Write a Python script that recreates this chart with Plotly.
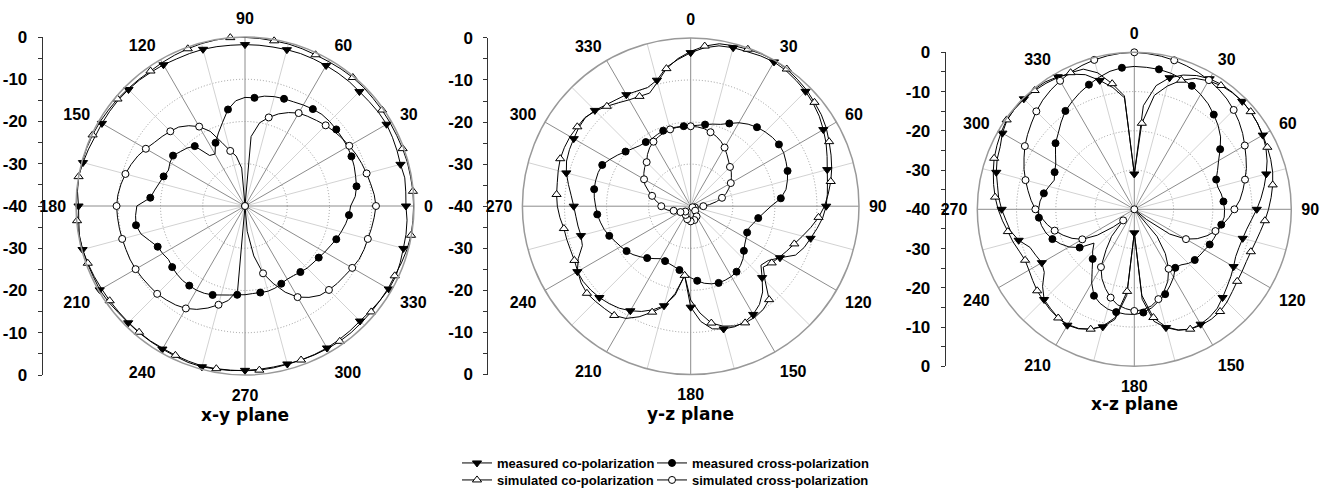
import plotly.graph_objects as go

W, H = 1325, 491
ANGLES = list(range(0, 360, 5))

# ---------------- data (dB) on a 5-degree grid, 0..355 ----------------
# x-y plane
xy_meas_co = [-1.9,-1.8,-1.6,-1.9,-1.7,-1.5,-1.3,-1.4,-1.6,-1.7,-1.6,-1.6,-1.6,-1.6,-1.6,-1.7,-1.8,-1.8,
              -1.8,-1.8,-1.7,-1.6,-1.6,-1.6,-1.4,-1.3,-1.1,-1.0,-0.9,-0.9,-0.9,-0.9,-0.6,-0.3,0.0,-0.2,
              -0.6,-0.5,-0.2,-0.2,-0.3,-0.4,-0.3,-0.5,-0.8,-0.9,-0.9,-0.9,-0.9,-0.8,-0.6,-0.6,-0.8,-0.9,
              -1.1,-1.2,-1.3,-1.3,-1.2,-1.2,-1.2,-1.3,-1.4,-1.5,-1.3,-1.0,-0.7,-0.6,-0.9,-1.2,-1.3,-1.5]
xy_sim_co = [-0.1,-0.1,-0.2,-0.2,-0.3,-0.4,-0.4,-0.4,-0.4,-0.3,-0.3,-0.4,-0.5,-0.5,-0.4,-0.3,-0.3,-0.2,
             -0.1,0.0,-0.1,-0.2,-0.4,-0.6,-0.8,-1.0,-0.9,-0.8,-0.6,-0.5,-0.3,-0.2,-0.1,-0.1,0.0,-0.1,
             -0.1,-0.1,-0.1,-0.2,-0.4,-0.6,-0.8,-0.9,-1.0,-1.0,-1.0,-1.0,-1.1,-1.0,-0.9,-0.8,-0.9,-1.0,
             -1.0,-1.0,-1.1,-1.2,-1.2,-1.1,-1.0,-0.9,-0.9,-1.0,-1.0,-1.0,-0.9,-0.9,-0.6,-0.3,-0.1,-0.1]
xy_meas_cross = [-15.0,-13.8,-13.2,-12.9,-12.5,-12.2,-12.0,-11.9,-11.8,-11.7,-11.7,-12.0,-12.4,-12.8,-13.0,-13.2,-13.6,-14.3,
                 -14.3,-15.0,-16.8,-19.5,-21.6,-23.5,-25.8,-25.4,-21.5,-20.6,-20.0,-19.2,-19.5,-20.0,-19.5,-19.0,-18.3,-17.5,
                 -14.4,-14.0,-13.8,-14.5,-16.0,-17.2,-17.5,-17.9,-17.5,-17.2,-17.0,-17.0,-17.0,-17.2,-17.6,-18.2,-18.6,-18.9,
                 -19.0,-19.2,-19.2,-19.1,-19.3,-19.7,-20.0,-19.9,-19.6,-19.2,-19.0,-18.7,-18.2,-17.7,-17.0,-16.4,-15.8,-15.3]
xy_sim_cross = [-9.0,-9.3,-9.8,-10.2,-10.6,-11.0,-11.5,-12.0,-12.5,-13.0,-13.6,-14.1,-14.6,-15.6,-16.8,-18.3,-20.0,-23.5,
                -40.0,-31.0,-28.0,-26.5,-24.0,-20.5,-18.3,-16.8,-15.6,-15.0,-14.4,-13.8,-12.9,-12.0,-11.3,-10.7,-10.2,-9.8,
                -9.6,-9.7,-9.8,-9.9,-10.0,-10.0,-10.1,-10.3,-10.5,-10.6,-11.0,-11.4,-12.0,-13.0,-14.3,-15.8,-17.3,-20.0,
                -40.0,-34.0,-28.0,-23.5,-20.5,-17.5,-15.1,-13.6,-12.4,-11.9,-11.5,-11.2,-10.7,-10.2,-10.0,-9.9,-9.6,-9.3]

# y-z plane
yz_meas_co = [-3.5,-2.2,-1.3,-1.0,-0.9,-0.6,-0.4,-0.6,-1.0,-1.4,-2.0,-2.7,-3.6,-4.5,-5.5,-6.4,-7.0,-7.4,
              -7.8,-8.5,-9.5,-10.5,-11.3,-12.5,-15.5,-17.5,-18.2,-16.0,-13.4,-11.5,-10.3,-9.6,-9.5,-9.8,-10.4,-12.5,
              -16.0,-23.5,-18.5,-15.5,-13.8,-12.4,-11.3,-10.4,-9.8,-9.3,-9.0,-8.8,-8.9,-10.5,-12.6,-13.0,-12.8,-12.6,
              -12.2,-11.5,-10.5,-9.4,-8.6,-8.2,-7.9,-7.5,-7.3,-7.8,-8.6,-9.1,-9.4,-9.8,-10.0,-9.0,-6.5,-5.0]
yz_sim_co = [-3.2,-1.8,-0.8,-0.5,-0.3,-0.1,0.0,-0.2,-0.6,-1.0,-1.6,-2.1,-2.8,-3.7,-4.5,-5.3,-6.2,-7.2,
             -8.2,-9.5,-11.0,-12.5,-13.8,-14.8,-15.7,-16.5,-17.5,-15.0,-11.0,-10.0,-9.5,-9.4,-9.7,-10.5,-11.8,-14.5,
             -17.7,-23.5,-19.0,-15.3,-13.2,-11.0,-9.2,-8.3,-8.2,-8.0,-7.8,-8.2,-9.0,-9.5,-9.6,-9.5,-9.4,-8.8,
             -8.3,-8.0,-7.8,-7.4,-7.0,-6.9,-6.9,-7.1,-7.2,-8.0,-9.0,-10.0,-10.8,-11.2,-11.4,-9.5,-6.8,-4.8]
yz_meas_cross = [-20.9,-20.7,-20.3,-19.8,-19.3,-18.3,-17.1,-16.2,-15.5,-15.0,-14.6,-14.4,-14.5,-15.0,-15.5,-16.2,-17.0,-18.5,
                 -20.9,-22.5,-23.7,-24.5,-25.2,-25.2,-24.8,-24.3,-23.5,-22.4,-21.6,-21.0,-20.7,-20.6,-20.6,-20.9,-21.4,-22.2,
                 -23.0,-23.9,-24.6,-25.1,-25.4,-25.6,-25.6,-24.8,-23.9,-23.0,-22.1,-21.4,-20.8,-20.2,-19.4,-18.7,-18.2,-17.7,
                 -17.4,-17.0,-16.7,-16.6,-16.6,-16.8,-17.8,-18.8,-19.8,-20.6,-21.2,-21.4,-21.5,-21.2,-20.9,-20.8,-20.9,-20.9]
yz_sim_cross = [-21.0,-21.1,-21.3,-21.8,-22.3,-23.0,-23.9,-25.0,-26.0,-26.8,-27.4,-28.2,-29.0,-30.0,-31.0,-32.3,-33.8,-35.5,
                -37.0,-37.8,-38.5,-39.0,-39.5,-39.5,-39.5,-39.5,-39.0,-38.5,-38.0,-37.5,-37.2,-37.0,-36.8,-36.6,-36.5,-36.4,
                -36.4,-36.5,-36.6,-36.8,-37.0,-37.3,-37.6,-37.9,-38.1,-38.2,-38.0,-37.6,-37.2,-37.0,-36.9,-35.8,-34.5,-33.6,
                -33.0,-32.4,-31.4,-30.5,-29.3,-28.0,-27.2,-26.4,-25.7,-25.2,-24.0,-23.0,-22.3,-21.8,-21.4,-21.1,-21.0,-21.0]

# x-z plane
xz_meas_co = [-31.0,-13.5,-8.0,-5.3,-3.6,-2.4,-1.6,-1.2,-1.1,-1.1,-1.3,-1.7,-2.2,-3.0,-4.0,-5.2,-6.4,-7.6,
              -8.8,-10.0,-10.9,-11.4,-11.6,-11.5,-10.8,-10.0,-9.2,-8.2,-7.1,-6.5,-6.2,-6.3,-7.2,-8.8,-11.0,-17.0,
              -34.0,-18.0,-11.5,-9.0,-7.5,-6.4,-5.9,-6.2,-6.9,-7.5,-9.5,-12.0,-12.8,-12.3,-11.7,-9.5,-8.0,-7.2,
              -6.2,-5.3,-4.6,-3.6,-2.8,-2.3,-1.2,-0.4,-0.2,-0.2,-0.2,-0.4,-1.0,-2.0,-3.5,-6.0,-8.5,-11.5]
xz_sim_co = [-31.0,-18.0,-10.5,-7.5,-5.0,-3.2,-2.2,-1.5,-1.2,-1.1,-1.3,-1.7,-2.2,-2.6,-3.0,-3.5,-4.2,-5.0,
             -5.8,-6.6,-7.4,-8.0,-8.4,-8.5,-8.3,-8.0,-7.4,-6.6,-6.0,-5.8,-5.9,-6.3,-7.3,-9.0,-12.0,-18.0,
             -34.0,-19.0,-12.0,-9.2,-7.5,-6.5,-6.1,-6.2,-6.6,-7.2,-7.7,-8.4,-9.0,-9.3,-8.8,-8.0,-7.3,-6.3,
             -5.3,-4.4,-3.6,-2.8,-2.0,-1.4,-0.8,-0.3,-0.2,-0.3,-0.5,-0.8,-1.2,-1.6,-2.0,-4.0,-7.5,-11.0]
xz_meas_cross = [-3.6,-3.7,-3.8,-4.1,-4.6,-5.3,-6.2,-7.2,-8.5,-9.8,-11.3,-13.3,-15.2,-16.6,-17.8,-18.0,-17.5,-17.2,
                 -17.0,-17.0,-17.5,-18.0,-18.4,-18.8,-19.3,-19.6,-19.9,-20.5,-21.5,-21.8,-20.0,-18.5,-17.0,-15.8,-14.5,-13.6,
                 -13.2,-13.2,-13.4,-13.7,-14.5,-15.7,-18.3,-21.3,-23.5,-25.0,-26.6,-23.0,-20.8,-19.2,-17.8,-16.7,-16.0,-15.6,
                 -15.6,-15.9,-16.6,-17.5,-18.3,-17.6,-16.9,-15.5,-13.8,-12.6,-11.0,-9.4,-8.3,-7.2,-6.2,-5.2,-4.3,-3.8]
xz_sim_cross = [0.0,-0.2,-0.4,-0.7,-1.1,-1.5,-2.0,-2.6,-3.3,-4.2,-5.2,-6.3,-7.5,-8.6,-9.6,-10.8,-11.9,-13.0,
                -14.5,-15.8,-17.2,-18.6,-20.3,-22.3,-24.8,-29.0,-36.0,-40.0,-31.0,-26.2,-22.5,-19.8,-17.8,-16.3,-15.0,-14.3,
                -14.1,-14.6,-15.3,-16.7,-18.5,-20.5,-23.0,-27.5,-31.0,-36.0,-33.0,-28.5,-24.7,-22.5,-20.7,-19.0,-17.5,-16.2,
                -14.8,-13.6,-12.5,-11.3,-10.1,-9.0,-7.8,-6.8,-5.8,-4.7,-3.7,-2.9,-2.2,-1.5,-1.0,-0.6,-0.3,-0.1]

angle_ticks = [0, 30, 60, 90, 120, 150, 180, 210, 240, 270, 300, 330]
minor_angle_ticks = [15, 45, 75, 105, 135, 165, 195, 225, 255, 285, 315, 345]
radial_range = [-40, 0]
radial_grid = [-30, -20, -10]
side_tick_pos = [-40, -30, -20, -10, 0, 10, 20, 30, 40]
side_tick_labels = ['0', '-10', '-20', '-30', '-40', '-30', '-20', '-10', '0']
series_names = ['measured co-polarization', 'measured cross-polarization',
                'simulated co-polarization', 'simulated cross-polarization']
plane_titles = ['x-y plane', 'y-z plane', 'x-z plane']

# ---------------- layout geometry (pixels) ----------------
panels = [
    dict(cx=245.0, cy=206.0, R=169.0, ax=42.7, ty=415, rot=0, dirn='counterclockwise',
         data=[xy_meas_co, xy_meas_cross, xy_sim_co, xy_sim_cross]),
    dict(cx=690.7, cy=206.2, R=168.3, ax=488.3, ty=414, rot=90, dirn='clockwise',
         data=[yz_meas_co, yz_meas_cross, yz_sim_co, yz_sim_cross]),
    dict(cx=1134.3, cy=209.3, R=157.0, ax=945.7, ty=404, rot=90, dirn='clockwise',
         data=[xz_meas_co, xz_meas_cross, xz_sim_co, xz_sim_cross]),
]

styles = [
    dict(symbol='triangle-down', color='black', size=8, phase=0),
    dict(symbol='circle', color='black', size=7, phase=10),
    dict(symbol='triangle-up', color='white', size=8, phase=5),
    dict(symbol='circle', color='white', size=7, phase=0),
]

# legend entry positions (pixels: left x, centre y)
legend_slots = [(457, 463), (652, 463), (457, 480), (652, 480)]

FONT = 'Liberation Sans, Arial, sans-serif'
TITLE_FONT = 'DejaVu Sans, Liberation Sans, sans-serif'

fig = go.Figure()
layout = dict(
    width=W, height=H, margin=dict(l=0, r=0, t=0, b=0, autoexpand=False),
    paper_bgcolor='white', plot_bgcolor='rgba(0,0,0,0)',
    font=dict(family=FONT, color='black'),
    annotations=[], showlegend=True,
)

for i, p in enumerate(panels):
    pid = '' if i == 0 else str(i + 1)
    polar_name = 'polar' + pid
    x0 = (p['cx'] - p['R']) / W
    x1 = (p['cx'] + p['R']) / W
    y0 = 1 - (p['cy'] + p['R']) / H
    y1 = 1 - (p['cy'] - p['R']) / H
    layout[polar_name] = dict(
        domain=dict(x=[x0, x1], y=[y0, y1]),
        bgcolor='rgba(0,0,0,0)',
        angularaxis=dict(
            rotation=p['rot'], direction=p['dirn'],
            tickmode='array', tickvals=angle_ticks, ticktext=[str(a) for a in angle_ticks],
            showgrid=True, gridcolor='#8c8c8c', gridwidth=1,
            showline=True, linecolor='#999999', linewidth=1.5,
            ticks='outside', ticklen=6, tickcolor='rgba(0,0,0,0)',
            tickfont=dict(family=FONT, size=16, color='black', weight='bold'),
        ),
        radialaxis=dict(
            range=radial_range, tickmode='array', tickvals=radial_grid,
            showticklabels=False, ticks='', showline=False,
            showgrid=True, gridcolor='#9a9a9a', gridwidth=1, griddash='1px,2px',
        ),
    )
    # light 15-degree spokes
    th, rr = [], []
    for a in minor_angle_ticks:
        th += [a, a, None]
        rr += [radial_range[0], radial_range[1], None]
    fig.add_trace(go.Scatterpolar(r=rr, theta=th, mode='lines', subplot=polar_name,
                                  line=dict(color='#d2d2d2', width=1),
                                  showlegend=False, hoverinfo='skip'))
    # curves
    for vals in p['data']:
        fig.add_trace(go.Scatterpolar(
            r=vals + [vals[0]], theta=ANGLES + [360], mode='lines', subplot=polar_name,
            line=dict(color='black', width=1), showlegend=False, hoverinfo='skip'))
    for vals, st in zip(p['data'], styles):
        sel = [(a, v) for a, v in zip(ANGLES, vals) if (a - st['phase']) % 15 == 0]
        fig.add_trace(go.Scatterpolar(
            r=[v for a, v in sel], theta=[a for a, v in sel], mode='markers', subplot=polar_name,
            marker=dict(symbol=st['symbol'], size=st['size'], color=st['color'],
                        line=dict(color='black', width=1)),
            showlegend=False, hoverinfo='skip'))

    # side linear axis
    xn = 'xaxis' + pid
    yn = 'yaxis' + pid
    xa = p['ax'] / W
    layout[xn] = dict(domain=[xa, xa + 0.001], visible=False, range=[0, 1], fixedrange=True)
    layout[yn] = dict(
        domain=[1 - (p['cy'] + p['R']) / H, 1 - (p['cy'] - p['R']) / H],
        anchor='x' + pid, side='left', range=[-40, 40],
        tickmode='array', tickvals=side_tick_pos, ticktext=side_tick_labels,
        ticks='outside', ticklen=4, tickwidth=1, tickcolor='#333333',
        minor=dict(ticks='outside', ticklen=4, tickwidth=1, tickcolor='#333333', dtick=5, tick0=0),
        showline=True, linecolor='#333333', linewidth=1,
        showgrid=False, zeroline=False, fixedrange=True, ticklabelstandoff=7,
        tickfont=dict(family=FONT, size=17, color='black', weight='bold'),
    )
    fig.add_trace(go.Scatter(x=[None], y=[None], xaxis='x' + pid, yaxis='y' + pid,
                             mode='lines', showlegend=False, hoverinfo='skip'))

    layout['annotations'].append(dict(
        text=plane_titles[i], x=p['cx'] / W, y=1 - p['ty'] / H, xref='paper', yref='paper',
        xanchor='center', yanchor='middle', showarrow=False,
        font=dict(family=TITLE_FONT, size=17, color='black', weight='bold')))

# legend-only traces, one small legend per entry so the columns line up
for k, (name, st) in enumerate(zip(series_names, styles)):
    lname = 'legend' if k == 0 else 'legend' + str(k + 1)
    fig.add_trace(go.Scatter(
        x=[None], y=[None], xaxis='x', yaxis='y', name=name, mode='lines+markers',
        line=dict(color='black', width=1),
        marker=dict(symbol=st['symbol'], size=st['size'], color=st['color'],
                    line=dict(color='black', width=1)),
        legend=lname, hoverinfo='skip'))
    lx, ly = legend_slots[k]
    layout[lname] = dict(orientation='h', xanchor='left', yanchor='middle',
                         x=lx / W, y=1 - ly / H,
                         bgcolor='rgba(0,0,0,0)', borderwidth=0, itemwidth=30,
                         font=dict(family=FONT, size=13, color='black', weight='bold'))

fig.update_layout(**layout)
fig.write_html('out.html', config={'displayModeBar': False},
               post_script="document.body.style.margin='0';")
